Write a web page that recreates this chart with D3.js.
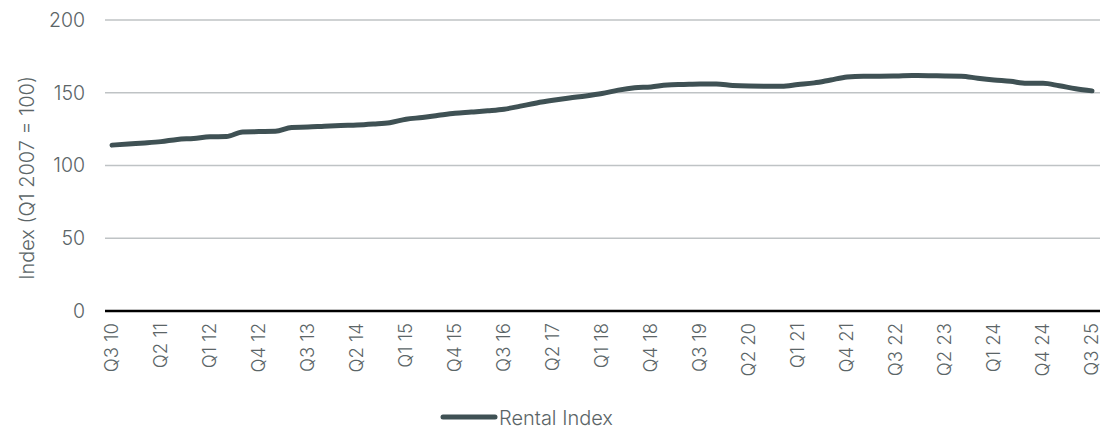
<!DOCTYPE html>
<html>
<head>
<meta charset="utf-8">
<script src="https://cdn.jsdelivr.net/npm/d3@7"></script>
<style>
  body { margin: 0; background: #fff; }
  text { font-family: Inter, "Open Sans", sans-serif; font-weight: 300; fill: #5b6567; }
</style>
</head>
<body>
<div id="chart"></div>
<script>
// quarters Q3 2010 .. Q3 2025
var quarters = [];
(function () {
    var q = 3, y = 10;
    while (y < 25 || (y == 25 && q <= 3)) {
        quarters.push("Q" + q + " " + y);
        q++;
        if (q > 4) { q = 1; y++; }
    }
})();

var rentalIndex = [
    114.0, 114.8, 115.5, 116.4, 117.9, 118.6, 119.7, 119.9, 123.1, 123.3,
    123.5, 126.1, 126.4, 127.0, 127.5, 127.8, 128.5, 129.4, 131.8, 133.0,
    134.5, 135.9, 136.7, 137.6, 138.7, 140.8, 143.0, 144.8, 146.4, 147.8,
    149.5, 151.8, 153.4, 154.0, 155.4, 155.7, 156.0, 156.0, 155.0, 154.6,
    154.5, 154.4, 155.6, 156.8, 158.8, 160.8, 161.4, 161.4, 161.5, 161.8,
    161.7, 161.5, 161.4, 160.0, 158.8, 157.9, 156.5, 156.5, 154.8, 152.8,
    151.3
];

var yTicks = [0, 50, 100, 150, 200];
var xTickLabels = quarters.filter(function (d, i) { return i % 3 == 0; });

function build_chart() {
    var width = 1100, height = 427;
    var left = 105, right = 1100, top = 20, bottom = 311;

    var svg = d3.select("#chart")
        .append("svg")
            .attr("width", width)
            .attr("height", height);

    var xScale = d3.scalePoint()
        .domain(quarters)
        .range([112, 1092]);

    var yScale = d3.scaleLinear()
        .domain([0, 200])
        .range([bottom, top]);

    // gridlines
    svg.append("g")
        .selectAll("line")
        .data(yTicks)
        .enter()
        .append("line")
            .attr("x1", left)
            .attr("x2", right)
            .attr("y1", function (d) { return yScale(d); })
            .attr("y2", function (d) { return yScale(d); })
            .attr("stroke", function (d) { return d == 0 ? "#000" : "#bfc3c5"; })
            .attr("stroke-width", function (d) { return d == 0 ? 2.5 : 1.3; });

    // y axis
    var yAxis = svg.append("g")
        .attr("transform", "translate(" + 89 + ",0)")
        .call(d3.axisLeft(yScale).tickValues(yTicks).tickSize(0).tickPadding(4));
    yAxis.select(".domain").remove();
    yAxis.selectAll("text")
        .style("font-size", "19.5px")
        .attr("fill", "#5b6567");

    // x axis
    var xAxis = svg.append("g")
        .attr("transform", "translate(0," + bottom + ")")
        .call(d3.axisBottom(xScale).tickValues(xTickLabels).tickSize(0));
    xAxis.select(".domain").remove();
    xAxis.selectAll("text")
        .style("font-size", "18.5px")
        .attr("fill", "#5b6567")
        .attr("text-anchor", "end")
        .attr("dy", "0.35em")
        .attr("transform", "translate(-1,12) rotate(-90)")
        .attr("x", 0)
        .attr("y", 0);

    // axis title
    svg.append("text")
        .attr("transform", "translate(" + 34 + "," + 178 + ") rotate(-90)")
        .attr("text-anchor", "middle")
        .style("font-size", "20px")
        .text("Index (Q1 2007 = 100)");

    // line
    var line = d3.line()
        .x(function (d, i) { return xScale(quarters[i]); })
        .y(function (d) { return yScale(d); })
        .curve(d3.curveMonotoneX);

    svg.append("path")
        .datum(rentalIndex)
        .attr("fill", "none")
        .attr("stroke", "#3f5154")
        .attr("stroke-width", 5)
        .attr("stroke-linecap", "round")
        .attr("stroke-linejoin", "round")
        .attr("d", line);

    // legend
    var legend = svg.append("g");
    legend.append("line")
        .attr("x1", 443).attr("x2", 495)
        .attr("y1", 417).attr("y2", 417)
        .attr("stroke", "#3f5154")
        .attr("stroke-width", 5)
        .attr("stroke-linecap", "round");
    legend.append("text")
        .attr("x", 499)
        .attr("y", 418)
        .attr("dy", "0.35em")
        .style("font-size", "20px")
        .text("Rental Index");
}
build_chart();
</script>
</body>
</html>
